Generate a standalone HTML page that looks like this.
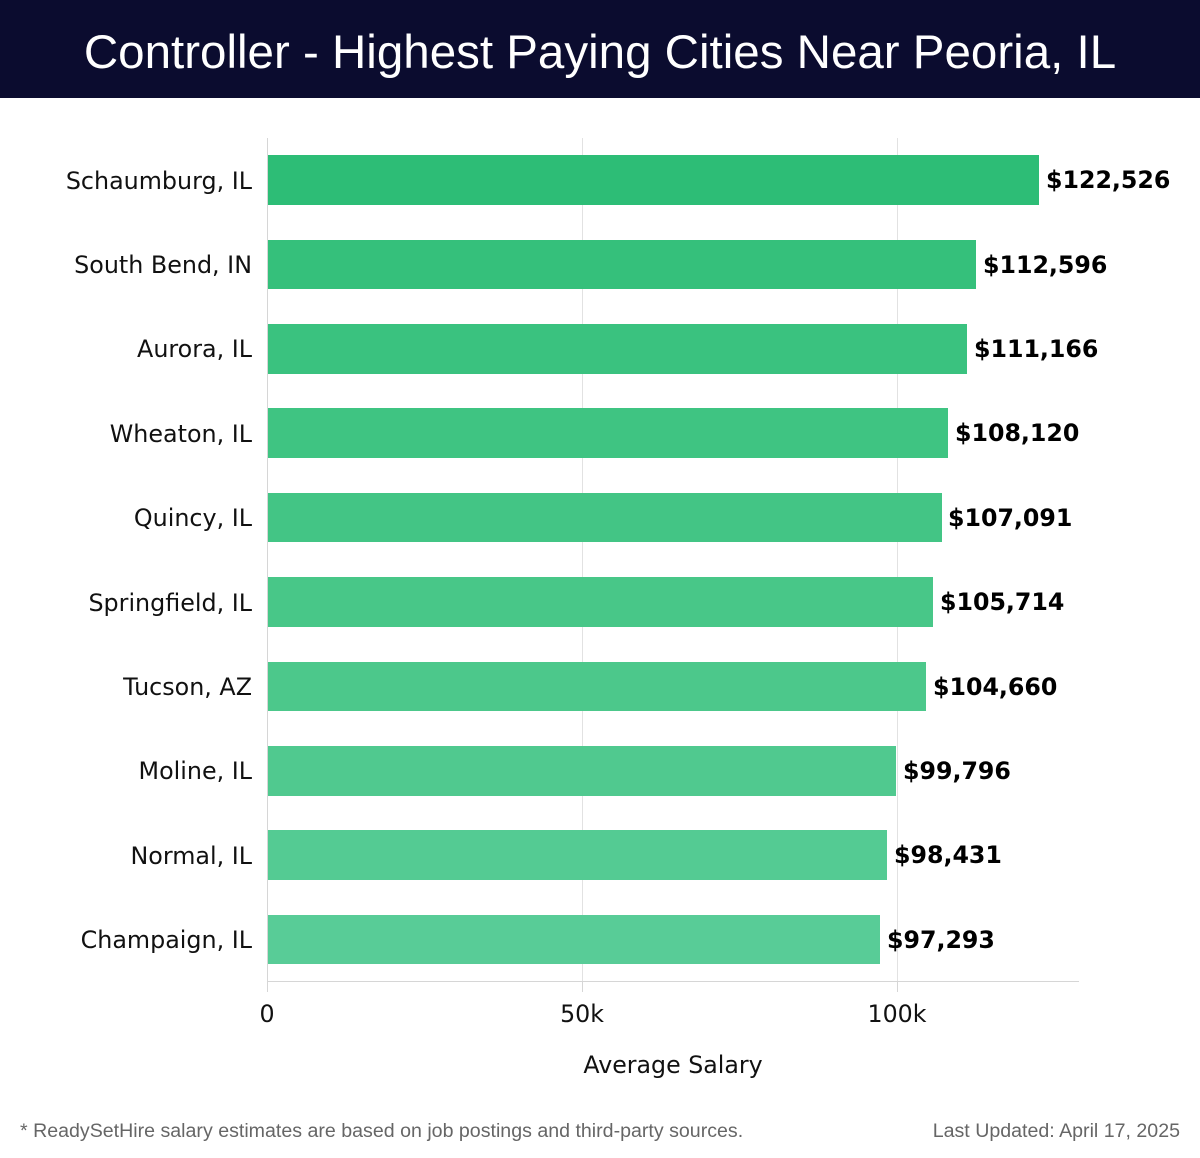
<!DOCTYPE html>
<html><head><style>
body{margin:0;width:1200px;height:1158px;background:#fff;font-family:"Liberation Sans",sans-serif;position:relative;overflow:hidden}
.hdr{position:absolute;left:0;top:0;width:1200px;height:98px;background:#0b0c2f;color:#fff;font-size:47.5px;text-align:center;line-height:106px}
.a{position:absolute}
</style></head><body>
<div class="hdr">Controller - Highest Paying Cities Near Peoria, IL</div>
<svg class="a" style="left:0;top:0" width="1200" height="1158" font-family="DejaVu Sans, sans-serif">
<g stroke="#e2e2e2" stroke-width="1">
<line x1="582.5" y1="138" x2="582.5" y2="982"/>
<line x1="897.5" y1="138" x2="897.5" y2="982"/>
</g>
<g stroke="#d6d6d6" stroke-width="1">
<line x1="267.5" y1="138" x2="267.5" y2="992"/>
<line x1="267" y1="981.5" x2="1079" y2="981.5"/>
<line x1="582.5" y1="982" x2="582.5" y2="992"/>
<line x1="897.5" y1="982" x2="897.5" y2="992"/>
</g>
<g font-size="23.8" fill="#111" text-anchor="end">
<text x="252" y="189">Schaumburg, IL</text>
<text x="252" y="273">South Bend, IN</text>
<text x="252" y="357">Aurora, IL</text>
<text x="252" y="442">Wheaton, IL</text>
<text x="252" y="526">Quincy, IL</text>
<text x="252" y="611">Springfield, IL</text>
<text x="252" y="695">Tucson, AZ</text>
<text x="252" y="779">Moline, IL</text>
<text x="252" y="864">Normal, IL</text>
<text x="252" y="948">Champaign, IL</text>
</g>
<g>
<rect x="268" y="155" width="771" height="50" fill="#2dbd76"/>
<rect x="268" y="240" width="708" height="49" fill="#35c07b"/>
<rect x="268" y="324" width="699" height="50" fill="#3ac27f"/>
<rect x="268" y="408" width="680" height="50" fill="#3fc482"/>
<rect x="268" y="493" width="674" height="49" fill="#43c585"/>
<rect x="268" y="577" width="665" height="50" fill="#48c788"/>
<rect x="268" y="662" width="658" height="49" fill="#4cc88b"/>
<rect x="268" y="746" width="628" height="50" fill="#50c98f"/>
<rect x="268" y="830" width="619" height="50" fill="#54cb93"/>
<rect x="268" y="915" width="612" height="49" fill="#58cc97"/>
</g>
<g font-size="23.7" font-weight="bold" fill="#000">
<text x="1046" y="188">$122,526</text>
<text x="983" y="273">$112,596</text>
<text x="974" y="357">$111,166</text>
<text x="955" y="441">$108,120</text>
<text x="948" y="526">$107,091</text>
<text x="940" y="610">$105,714</text>
<text x="933" y="695">$104,660</text>
<text x="903" y="779">$99,796</text>
<text x="894" y="863">$98,431</text>
<text x="887" y="948">$97,293</text>
</g>
<g font-size="23.7" fill="#111" text-anchor="middle">
<text x="267" y="1022">0</text>
<text x="582" y="1022">50k</text>
<text x="897" y="1022">100k</text>
<text x="673" y="1073">Average Salary</text>
</g>
<text x="20" y="1137" font-family="Liberation Sans, sans-serif" font-size="19.6" fill="#666">* ReadySetHire salary estimates are based on job postings and third-party sources.</text>
<text x="1180" y="1137" font-family="Liberation Sans, sans-serif" font-size="19.6" fill="#666" text-anchor="end">Last Updated: April 17, 2025</text>
</svg>
</body></html>
